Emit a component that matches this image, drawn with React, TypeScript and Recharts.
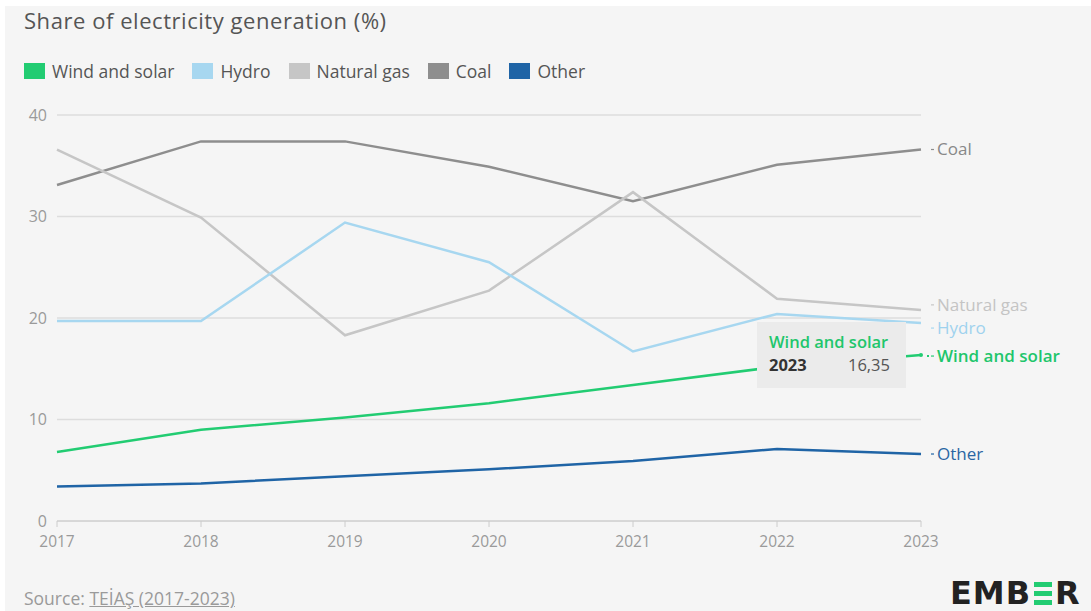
import React from 'react';
import { LineChart, Line, XAxis, YAxis, CartesianGrid, Tooltip } from 'recharts';

const years = ['2017', '2018', '2019', '2020', '2021', '2022', '2023'];
const windSolar = [6.8, 9.0, 10.2, 11.6, 13.4, 15.2, 16.35];
const hydro = [19.7, 19.7, 29.4, 25.5, 16.7, 20.4, 19.5];
const naturalGas = [36.6, 29.9, 18.3, 22.7, 32.4, 21.9, 20.8];
const coal = [33.1, 37.4, 37.4, 34.9, 31.5, 35.1, 36.6];
const other = [3.4, 3.7, 4.4, 5.1, 5.9, 7.1, 6.6];
const yTicks = [0, 10, 20, 30, 40];

const FONT = '"Open Sans", "DejaVu Sans", sans-serif';

const series = [
  { key: 'wind', name: 'Wind and solar', color: '#22cc72', labelColor: '#1fc66c', values: windSolar, dy: 1 },
  { key: 'hydro', name: 'Hydro', color: '#a7d7f0', labelColor: '#9fd2ee', values: hydro, dy: 5 },
  { key: 'gas', name: 'Natural gas', color: '#c6c6c6', labelColor: '#c4c4c4', values: naturalGas, dy: -5 },
  { key: 'coal', name: 'Coal', color: '#8e8e8e', labelColor: '#888888', values: coal, dy: 0 },
  { key: 'other', name: 'Other', color: '#1f64a6', labelColor: '#2a66a3', values: other, dy: 0 },
];

const data = years.map((year, i) => {
  const row: Record<string, string | number> = { year };
  series.forEach((s) => {
    row[s.key] = s.values[i];
  });
  return row;
});

function EndLabel(props: any, s: (typeof series)[number]) {
  const { x, y, index } = props;
  if (index !== years.length - 1) return null;
  const ly = y + s.dy;
  return (
    <g key={s.key + '-end'}>
      {s.key === 'wind' && <line x1={x + 6} y1={ly} x2={x + 8} y2={ly} stroke={s.color} strokeWidth={2} />}
      <line x1={x + 10} y1={ly} x2={x + 13} y2={ly} stroke={s.color} strokeWidth={1.2} />
      <text
        x={x + 16}
        y={ly}
        dy="0.35em"
        fill={s.labelColor}
        fontSize={17}
        fontWeight={s.key === 'wind' ? 600 : 500}
        fontFamily={FONT}
      >
        {s.name}
      </text>
    </g>
  );
}

function WindTooltip({ payload, label }: any) {
  const item = (payload || []).find((p: any) => p.dataKey === 'wind');
  if (!item) return null;
  return (
    <div
      style={{
        background: '#ebebeb',
        width: 149,
        height: 66,
        boxSizing: 'border-box',
        padding: '9px 10px 0 12px',
        fontFamily: FONT,
      }}
    >
      <div style={{ color: '#1fc66c', fontSize: 16.5, fontWeight: 600, lineHeight: '22px', whiteSpace: 'nowrap' }}>
        Wind and solar
      </div>
      <div style={{ display: 'flex', justifyContent: 'space-between', fontSize: 16.5, lineHeight: '24px' }}>
        <span style={{ color: '#333', fontWeight: 700 }}>{label}</span>
        <span style={{ color: '#555', paddingRight: 6 }}>{Number(item.value).toFixed(2).replace('.', ',')}</span>
      </div>
    </div>
  );
}

export default function App() {
  return (
    <div
      style={{
        position: 'absolute',
        left: 0,
        top: 0,
        width: 1091,
        height: 611,
        background: '#ffffff',
        fontFamily: FONT,
        overflow: 'hidden',
      }}
    >
      <div style={{ position: 'absolute', left: 5, top: 6, right: 0, bottom: 0, background: '#f5f5f5' }} />
      <div
        style={{
          position: 'absolute',
          left: 24,
          top: 5,
          fontSize: 22,
          letterSpacing: 0.55,
          color: '#555',
          lineHeight: '30px',
          whiteSpace: 'nowrap',
        }}
      >
        Share of electricity generation (%)
      </div>
      <div
        style={{
          position: 'absolute',
          left: 24,
          top: 59,
          display: 'flex',
          alignItems: 'center',
          fontSize: 17.5,
          color: '#555',
          whiteSpace: 'nowrap',
        }}
      >
        {series.map((s) => (
          <div key={s.key} style={{ display: 'flex', alignItems: 'center', marginRight: 18 }}>
            <span style={{ display: 'inline-block', width: 21, height: 16, background: s.color, marginRight: 7 }} />
            <span>{s.name}</span>
          </div>
        ))}
      </div>
      <div style={{ position: 'absolute', left: 0, top: 0 }}>
        <LineChart width={1091} height={611} data={data} margin={{ top: 115, right: 170, bottom: 60, left: 0 }}>
          <CartesianGrid vertical={false} stroke="#dddddd" strokeWidth={1.5} />
          <XAxis
            dataKey="year"
            height={30}
            axisLine={{ stroke: '#cccccc' }}
            tickLine={{ stroke: '#cccccc' }}
            tickSize={6}
            tickMargin={9}
            tick={{ fill: '#9a9a9a', fontSize: 15.5, fontFamily: FONT }}
            interval={0}
          />
          <YAxis
            width={57}
            domain={[0, 40]}
            ticks={yTicks}
            axisLine={false}
            tickLine={false}
            tickSize={0}
            tickMargin={10}
            tick={{ fill: '#9a9a9a', fontSize: 16, fontFamily: FONT }}
          />
          <Tooltip
            defaultIndex={6}
            cursor={false}
            position={{ x: 757, y: 322 }}
            content={<WindTooltip />}
            wrapperStyle={{ zIndex: 5 }}
            isAnimationActive={false}
          />
          {['coal', 'gas', 'hydro', 'other', 'wind'].map((k) => {
            const s = series.find((x) => x.key === k)!;
            return (
              <Line
                key={s.key}
                type="linear"
                dataKey={s.key}
                name={s.name}
                stroke={s.color}
                strokeWidth={2.5}
                dot={false}
                activeDot={s.key === 'wind' ? { r: 2, fill: s.color, stroke: 'none' } : false}
                isAnimationActive={false}
                label={(p: any) => EndLabel(p, s)}
              />
            );
          })}
        </LineChart>
      </div>
      <div
        style={{
          position: 'absolute',
          left: 24,
          top: 586,
          fontSize: 17.5,
          lineHeight: '24px',
          color: '#9a9a9a',
          whiteSpace: 'nowrap',
        }}
      >
        Source: <span style={{ textDecoration: 'underline' }}>TEİAŞ (2017-2023)</span>
      </div>
      <div
        style={{
          position: 'absolute',
          left: 950,
          top: 575,
          fontSize: 32,
          fontWeight: 800,
          color: '#222',
          display: 'flex',
          alignItems: 'center',
          letterSpacing: 1,
          fontFamily: '"DejaVu Sans", sans-serif',
          lineHeight: '36px',
        }}
      >
        <span>EMB</span>
        <span
          style={{
            display: 'inline-flex',
            flexDirection: 'column',
            justifyContent: 'space-between',
            height: 23,
            width: 18,
            margin: '0 3px',
          }}
        >
          <span style={{ height: 5, background: '#22cc72' }} />
          <span style={{ height: 5, background: '#22cc72' }} />
          <span style={{ height: 5, background: '#22cc72' }} />
        </span>
        <span>R</span>
      </div>
    </div>
  );
}
